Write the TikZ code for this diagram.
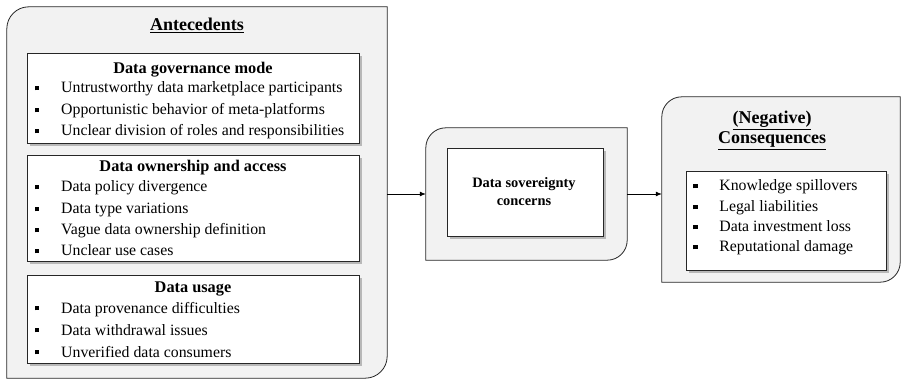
\documentclass[tikz,border=0pt]{standalone}
\usepackage{fontspec}
\setmainfont{Liberation Serif}
\usetikzlibrary{shadows,arrows.meta}
\definecolor{panelgray}{HTML}{F2F2F2}
\newcommand\sqb{\rule[2.6pt]{4.6pt}{4.6pt}}
\newcommand\itm[1]{\makebox[26.5pt][l]{\sqb}#1}
\tikzset{
  panel/.style={draw=black!85, line width=0.8pt, fill=panelgray},
  card/.style={draw=black!85, line width=0.8pt, fill=white, inner sep=0pt,
    drop shadow={shadow xshift=3pt, shadow yshift=-3pt, fill=black!50, opacity=0.5}},
  item/.style={anchor=base west, inner sep=0pt, font=\fontsize{15.8}{18}\selectfont},
  cardtitle/.style={anchor=base, inner sep=0pt, font=\bfseries\fontsize{16.3}{18}\selectfont},
  bigtitle/.style={anchor=base, inner sep=0pt, font=\bfseries\fontsize{18}{22}\selectfont},
  midtext/.style={anchor=base, inner sep=0pt, font=\bfseries\fontsize{14.4}{16}\selectfont},
  flow/.style={-{Latex[length=6pt,width=5pt]}, line width=0.8pt},
}
\begin{document}
\begin{tikzpicture}[x=1pt,y=-1pt]
\useasboundingbox (0,0) rectangle (902,379);
% panels (invisible anchors)
\node[inner sep=0pt, minimum width=380pt, minimum height=371pt] (A) at (197,192.5) {};
\node[inner sep=0pt, minimum width=201pt, minimum height=132pt] (M) at (526.5,194) {};
\node[inner sep=0pt, minimum width=238pt, minimum height=185pt] (C) at (781,189.5) {};
% panel shapes
\draw[panel] (A.south west) -- ([yshift=-22pt]A.north west) arc[start angle=180,end angle=90,radius=22pt]
  -- (A.north east) -- ([yshift=22pt]A.south east) arc[start angle=0,end angle=-90,radius=22pt] -- cycle;
\draw[panel] (M.south west) -- ([yshift=-20pt]M.north west) arc[start angle=180,end angle=90,radius=20pt]
  -- (M.north east) -- ([yshift=20pt]M.south east) arc[start angle=0,end angle=-90,radius=20pt] -- cycle;
\draw[panel] (C.south west) -- ([yshift=-20pt]C.north west) arc[start angle=180,end angle=90,radius=20pt]
  -- (C.north east) -- ([yshift=20pt]C.south east) arc[start angle=0,end angle=-90,radius=20pt] -- cycle;
% titles
\node[bigtitle] (tA) at (197,31) {\underline{Antecedents}};
\node[bigtitle] (tC1) at (772,124) {\underline{(Negative)}};
\node[bigtitle] (tC2) at (772,144) {\underline{Consequences}};
% cards
\node[card, minimum width=332pt, minimum height=90pt] (g) at (193,98) {};
\node[card, minimum width=332pt, minimum height=106pt] (o) at (193,208) {};
\node[card, minimum width=332pt, minimum height=88pt] (u) at (193,319) {};
\node[card, minimum width=156pt, minimum height=88pt] (s) at (525,192) {};
\node[card, minimum width=200pt, minimum height=99pt] (c) at (786,220.5) {};
% card 1
\node[cardtitle] (g0) at (193,74) {Data governance mode};
\node[item] (g1) at (34.5,93) {\itm{Untrustworthy data marketplace participants}};
\node[item] (g2) at (34.5,115) {\itm{Opportunistic behavior of meta-platforms}};
\node[item] (g3) at (34.5,136) {\itm{Unclear division of roles and responsibilities}};
% card 2
\node[cardtitle] (o0) at (193,172) {Data ownership and access};
\node[item] (o1) at (34.5,192) {\itm{Data policy divergence}};
\node[item] (o2) at (34.5,214) {\itm{Data type variations}};
\node[item] (o3) at (34.5,235) {\itm{Vague data ownership definition}};
\node[item] (o4) at (34.5,256) {\itm{Unclear use cases}};
% card 3
\node[cardtitle] (u0) at (193,293) {Data usage};
\node[item] (u1) at (34.5,313) {\itm{Data provenance difficulties}};
\node[item] (u2) at (34.5,335) {\itm{Data withdrawal issues}};
\node[item] (u3) at (34.5,357) {\itm{Unverified data consumers}};
% middle
\node[midtext] (s1) at (524,188) {Data sovereignty};
\node[midtext] (s2) at (524,206) {concerns};
% consequences
\node[item] (c1) at (692.7,191) {\itm{Knowledge spillovers}};
\node[item] (c2) at (692.7,212) {\itm{Legal liabilities}};
\node[item] (c3) at (692.7,232) {\itm{Data investment loss}};
\node[item] (c4) at (692.7,252) {\itm{Reputational damage}};
% connectors
\draw[flow] (A.east |- M.west) -- (M.west);
\draw[flow] (M.east) -- (C.west |- M.east);
\end{tikzpicture}
\end{document}
